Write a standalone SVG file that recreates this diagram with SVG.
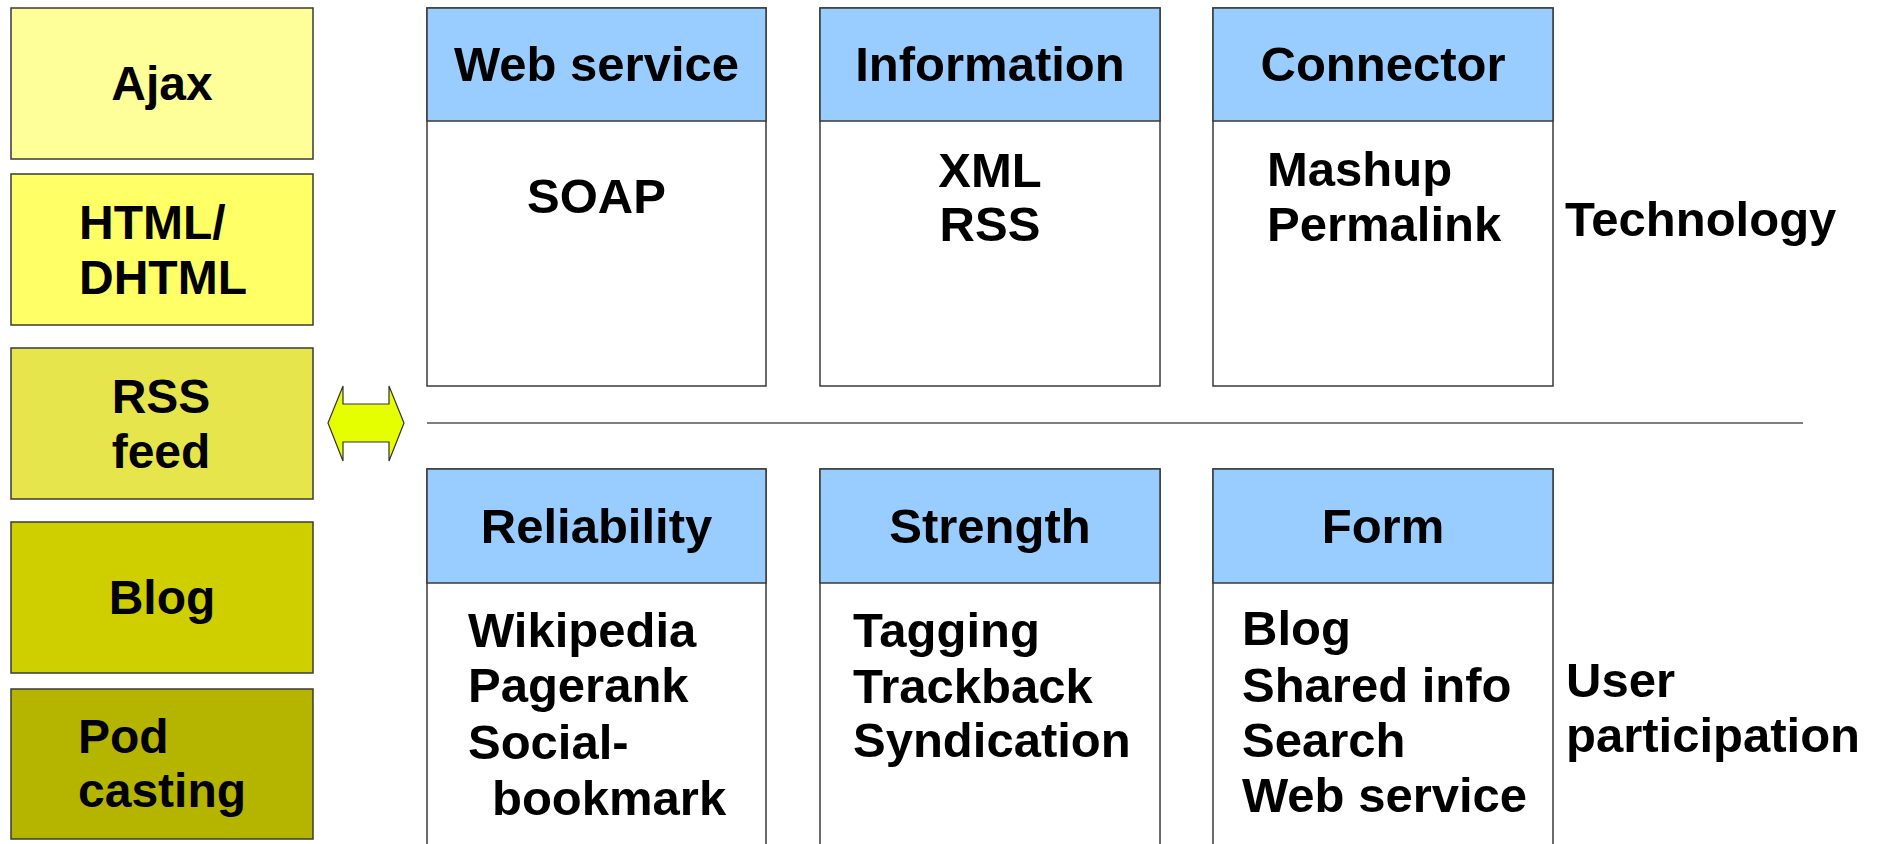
<svg xmlns="http://www.w3.org/2000/svg" width="1881" height="844" viewBox="0 0 1881 844">
<style>
text{font-family:"Liberation Sans",Arial,sans-serif;font-weight:bold;font-size:49px;fill:#000}
.l text{font-size:48px}
.c{text-anchor:middle}
.lb{stroke:#3a3a3a;stroke-width:1.5}
.box{fill:#fff;stroke:#3a3a3a;stroke-width:1.5}
.hdr{fill:#99ccff;stroke:#3a3a3a;stroke-width:1.5}
</style>
<rect width="1881" height="844" fill="#fff"/>
<g class="l">
<g id="ajax"><rect class="lb" x="11" y="8" width="302" height="151" fill="#ffff99"/><text class="c" x="162" y="100">Ajax</text></g>
<g id="html"><rect class="lb" x="11" y="174" width="302" height="151" fill="#ffff66"/><text x="79" y="239">HTML/</text><text x="79" y="294">DHTML</text></g>
<g id="rss"><rect class="lb" x="11" y="348" width="302" height="151" fill="#e6e64c"/><text class="c" x="161" y="413">RSS</text><text class="c" x="161" y="468">feed</text></g>
<g id="blog"><rect class="lb" x="11" y="522" width="302" height="151" fill="#cfcf00"/><text class="c" x="162" y="614">Blog</text></g>
<g id="podcasting"><rect class="lb" x="11" y="689" width="302" height="150" fill="#b5b500"/><text x="78" y="753">Pod</text><text x="78" y="807">casting</text></g>
</g>
<g id="connectors">
<polygon points="328,423 343,386 343,404 389,404 389,386 404,423 389,461 389,442 343,442 343,461" fill="#e6ff00" stroke="#333" stroke-width="1.2"/>
<line x1="427" y1="423" x2="1803" y2="423" stroke="#555" stroke-width="1.5"/>
</g>
<g id="webservice"><rect class="box" x="427" y="8" width="339" height="378"/><rect class="hdr" x="427" y="8" width="339" height="113"/><text class="c" x="596.5" y="81">Web service</text><text class="c" x="596.5" y="213">SOAP</text></g>
<g id="information"><rect class="box" x="820" y="8" width="340" height="378"/><rect class="hdr" x="820" y="8" width="340" height="113"/><text class="c" x="990" y="81">Information</text><text class="c" x="990" y="187">XML</text><text class="c" x="990" y="241">RSS</text></g>
<g id="connector"><rect class="box" x="1213" y="8" width="340" height="378"/><rect class="hdr" x="1213" y="8" width="340" height="113"/><text class="c" x="1383" y="81">Connector</text><text x="1267" y="186">Mashup</text><text x="1267" y="241">Permalink</text></g>
<g id="technology"><text x="1565" y="236">Technology</text></g>
<g id="reliability"><rect class="box" x="427" y="469" width="339" height="400"/><rect class="hdr" x="427" y="469" width="339" height="114"/><text class="c" x="596.5" y="543">Reliability</text><text x="468" y="647">Wikipedia</text><text x="468" y="702">Pagerank</text><text x="468" y="759">Social-</text><text x="492" y="815">bookmark</text></g>
<g id="strength"><rect class="box" x="820" y="469" width="340" height="400"/><rect class="hdr" x="820" y="469" width="340" height="114"/><text class="c" x="990" y="543">Strength</text><text x="853" y="647">Tagging</text><text x="853" y="703">Trackback</text><text x="853" y="757">Syndication</text></g>
<g id="form"><rect class="box" x="1213" y="469" width="340" height="400"/><rect class="hdr" x="1213" y="469" width="340" height="114"/><text class="c" x="1383" y="543">Form</text><text x="1242" y="645">Blog</text><text x="1242" y="702">Shared info</text><text x="1242" y="757">Search</text><text x="1242" y="812">Web service</text></g>
<g id="userparticipation"><text x="1566" y="697">User</text><text x="1566" y="752">participation</text></g>
</svg>
